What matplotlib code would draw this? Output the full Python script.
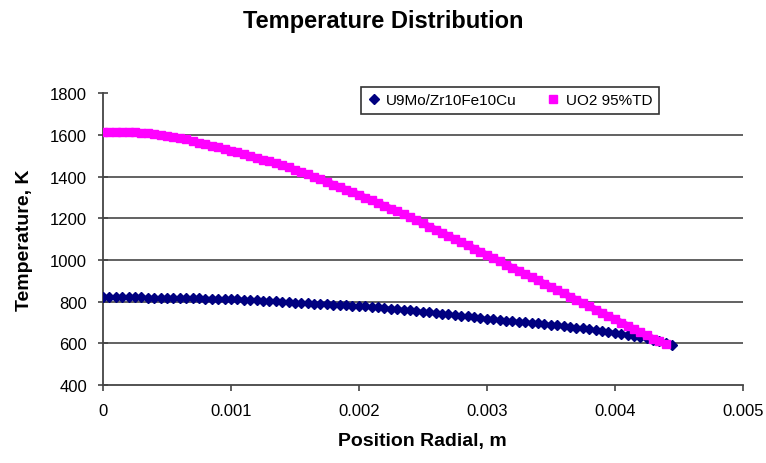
import numpy as np
import matplotlib.pyplot as plt

plt.rcParams['font.family'] = ['Liberation Sans', 'DejaVu Sans']

# radial nodes (m) and temperatures (K)
r_umo = np.linspace(0, 0.00445, 90)
t_umo = [820, 820, 820, 820, 820, 820, 820, 819, 819, 819, 819,
         818, 818, 817, 817, 816, 815, 815, 814, 813, 812,
         811, 810, 808, 807, 805, 803, 802, 800, 798, 795,
         794, 792, 791, 789, 788, 786, 785, 783, 781, 779,
         777, 775, 772, 770, 767, 764, 761, 758, 755, 752,
         749, 746, 742, 739, 736, 732, 729, 725, 722, 718,
         715, 712, 709, 707, 704, 701, 699, 696, 693, 690,
         687, 683, 680, 676, 672, 668, 664, 660, 656, 652,
         647, 642, 637, 631, 624, 617, 609, 600, 591]

r_uo2 = np.linspace(0, 0.0044, 89)
t_uo2 = [1615, 1615, 1615, 1614, 1613, 1612, 1611, 1609, 1605, 1601, 1596,
         1591, 1585, 1578, 1570, 1563, 1555, 1548, 1540, 1533, 1525,
         1516, 1507, 1499, 1490, 1481, 1473, 1464, 1455, 1444, 1433,
         1422, 1410, 1398, 1386, 1374, 1362, 1350, 1337, 1325, 1312,
         1299, 1286, 1273, 1260, 1246, 1233, 1219, 1205, 1190, 1175,
         1160, 1145, 1130, 1115, 1100, 1085, 1070, 1055, 1039, 1024,
         1009, 994, 978, 963, 948, 932, 917, 902, 886, 871,
         855, 840, 824, 809, 793, 778, 762, 747, 731, 716,
         700, 685, 669, 653, 638, 623, 609, 595]

labels = ["U9Mo/Zr10Fe10Cu", "UO2 95%TD"]
x_ticks = [0, 0.001, 0.002, 0.003, 0.004, 0.005]
x_ticklabels = ["0", "0.001", "0.002", "0.003", "0.004", "0.005"]
y_ticks = [400, 600, 800, 1000, 1200, 1400, 1600, 1800]

fig = plt.figure(figsize=(7.66, 4.64), dpi=100)
ax = fig.add_axes([0.1345, 0.168, 0.835, 0.629])

ax.plot(r_umo, t_umo, color="#000080", marker="D", markersize=5, lw=2.5,
        label=labels[0], zorder=3)
ax.plot(r_uo2, t_uo2, color="#FF00FF", marker="s", markersize=6, lw=5,
        label=labels[1], zorder=4)

ax.set_xlim(0, 0.005)
ax.set_ylim(400, 1800)
ax.set_xticks(x_ticks)
ax.set_xticklabels(x_ticklabels)
ax.set_yticks(y_ticks)

ax.yaxis.grid(True, color="#555555", lw=1.3)
ax.set_axisbelow(True)
ax.get_ygridlines()[-1].set_visible(False)
ax.get_ygridlines()[0].set_visible(False)

for s in ["top", "right"]:
    ax.spines[s].set_visible(False)
for s in ["left", "bottom"]:
    ax.spines[s].set_color("#444444")
    ax.spines[s].set_linewidth(1.3)

ax.tick_params(axis="y", direction="inout", length=7, width=1.2,
               color="#444444", labelsize=12, pad=8)
ax.tick_params(axis="x", direction="out", length=4, width=1.2,
               color="#444444", labelsize=12, pad=9)

ax.set_xlabel("Position Radial, m", fontsize=14, fontweight="bold", labelpad=10)
ax.set_ylabel("Temperature, K", fontsize=14, fontweight="bold", labelpad=12)
fig.suptitle("Temperature Distribution", fontsize=17, fontweight="bold", y=0.978)

leg = ax.legend(loc="center", bbox_to_anchor=(0.636, 0.975), ncol=2,
                fontsize=11, frameon=True, fancybox=False, borderpad=0.45,
                handlelength=0.8, handletextpad=0.4, columnspacing=2.0)
leg.get_frame().set_edgecolor("black")
leg.get_frame().set_linewidth(1.2)
for h in leg.legend_handles:
    h.set_linestyle("None")

fig.savefig("out.png", dpi=100)
